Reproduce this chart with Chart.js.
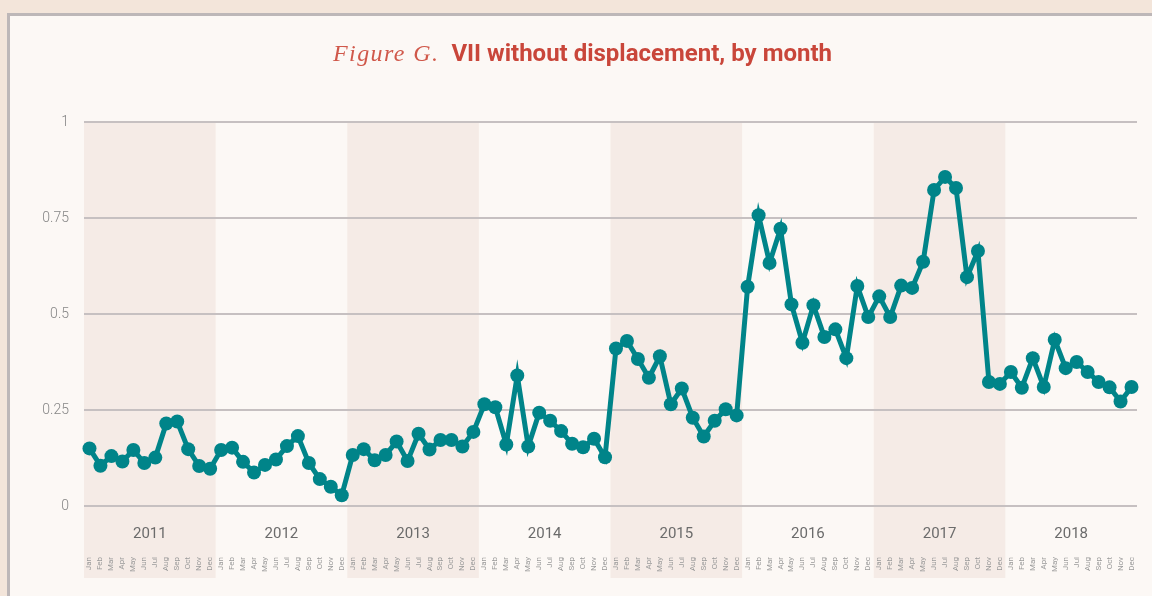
<!DOCTYPE html>
<html>
<head>
<meta charset="utf-8">
<script src="https://cdn.jsdelivr.net/npm/chart.js@4"></script>
<style>
  html, body { margin: 0; padding: 0; width: 1152px; height: 596px; overflow: hidden; background: #f3e5da; }
  #card { position: absolute; left: 7px; top: 13px; width: 1200px; height: 700px; border: 3px solid #bdb7b8; background: #fcf8f5; box-sizing: border-box; }
  #title { position: absolute; left: 333px; top: 38px; white-space: nowrap; line-height: 30px; z-index: 3; }
  #title .fig { font-family: "Liberation Serif", "DejaVu Serif", serif; font-style: italic; font-size: 24px; letter-spacing: 1.4px; color: #d0584a; }
  #title .main { font-family: Roboto, "Noto Sans", sans-serif; font-weight: 700; font-size: 24px; color: #c9463a; margin-left: 12px; }
  #wrap { position: absolute; left: 0; top: 0; width: 1152px; height: 596px; z-index: 2; }
</style>
</head>
<body>
<div id="card"></div>
<div id="title"><span class="fig">Figure G.</span><span class="main">VII without displacement, by month</span></div>
<div id="wrap"><canvas id="c" width="1152" height="596"></canvas></div>
<script>
const years = ['2011', '2012', '2013', '2014', '2015', '2016', '2017', '2018'];
const months = ['Jan', 'Feb', 'Mar', 'Apr', 'May', 'Jun', 'Jul', 'Aug', 'Sep', 'Oct', 'Nov', 'Dec'];
const yTicks = [0, 0.25, 0.5, 0.75, 1];

const v2011 = [0.150, 0.105, 0.130, 0.116, 0.146, 0.112, 0.126, 0.215, 0.220, 0.148, 0.104, 0.097];
const v2012 = [0.146, 0.152, 0.115, 0.087, 0.107, 0.121, 0.156, 0.182, 0.112, 0.070, 0.050, 0.028];
const v2013 = [0.133, 0.148, 0.119, 0.133, 0.168, 0.117, 0.188, 0.147, 0.172, 0.172, 0.155, 0.193];
const v2014 = [0.265, 0.257, 0.160, 0.340, 0.155, 0.243, 0.222, 0.195, 0.162, 0.153, 0.175, 0.127];
const v2015 = [0.410, 0.430, 0.383, 0.334, 0.390, 0.265, 0.306, 0.230, 0.181, 0.222, 0.252, 0.236];
const v2016 = [0.571, 0.757, 0.633, 0.722, 0.525, 0.425, 0.523, 0.440, 0.460, 0.385, 0.573, 0.492];
const v2017 = [0.546, 0.492, 0.574, 0.568, 0.636, 0.823, 0.857, 0.828, 0.596, 0.664, 0.323, 0.318];
const v2018 = [0.349, 0.308, 0.385, 0.310, 0.433, 0.359, 0.375, 0.349, 0.323, 0.309, 0.272, 0.310];

const series = [v2011, v2012, v2013, v2014, v2015, v2016, v2017, v2018];
const monthLabels = [];
years.forEach(() => months.forEach(m => monthLabels.push(m)));
const values = [].concat(...series);

const TEAL = '#008489';
const BAND = '#f5ebe6';

const bandPlugin = {
  id: 'yearBands',
  beforeDraw(chart) {
    const ys = chart.scales.year;
    const ctx = chart.ctx;
    const area = chart.chartArea;
    const step = ys.getPixelForTick(1) - ys.getPixelForTick(0);
    ctx.save();
    ctx.fillStyle = BAND;
    years.forEach((y, i) => {
      if (i % 2 === 0) {
        const cx = ys.getPixelForTick(i);
        ctx.fillRect(cx - step / 2, area.top, step, area.bottom - area.top + 72);
      }
    });
    ctx.restore();
  }
};

new Chart(document.getElementById('c'), {
  type: 'line',
  data: {
    labels: monthLabels,
    datasets: [{
      data: values,
      borderColor: TEAL,
      backgroundColor: TEAL,
      borderWidth: 5,
      pointRadius: 7,
      pointBorderWidth: 0,
      pointBackgroundColor: TEAL,
      tension: 0,
      xAxisID: 'x',
      yAxisID: 'y'
    }]
  },
  options: {
    responsive: false,
    animation: false,
    events: [],
    layout: { padding: { top: 122, right: 15, left: 0, bottom: 0 } },
    plugins: { legend: { display: false }, tooltip: { enabled: false }, title: { display: false } },
    scales: {
      y: {
        min: 0, max: 1,
        afterBuildTicks(scale) { scale.ticks = yTicks.map(v => ({ value: v })); },
        afterFit(scale) { scale.width = 84; },
        grid: { color: '#c6c0c1', lineWidth: 2, drawTicks: false },
        border: { display: false },
        ticks: {
          padding: 15,
          color: '#868686',
          font: { family: 'Roboto', size: 14, weight: '300' },
          callback: v => String(v)
        }
      },
      year: {
        type: 'category',
        labels: years,
        position: 'bottom',
        offset: true,
        weight: 1,
        afterFit(scale) { scale.height = 42; },
        grid: { display: false, drawTicks: false },
        border: { display: false },
        ticks: { padding: 19, color: '#6b6b6b', font: { family: 'Roboto', size: 15, weight: '400' }, maxRotation: 0, autoSkip: false }
      },
      x: {
        type: 'category',
        position: 'bottom',
        offset: true,
        weight: 2,
        afterFit(scale) { scale.height = 48; },
        grid: { display: false, drawTicks: false },
        border: { display: false },
        ticks: {
          padding: 9,
          color: '#9a9a9a',
          font: { family: 'Roboto', size: 8, weight: '400' },
          minRotation: 90, maxRotation: 90, autoSkip: false
        }
      }
    }
  },
  plugins: [bandPlugin]
});
</script>
</body>
</html>
